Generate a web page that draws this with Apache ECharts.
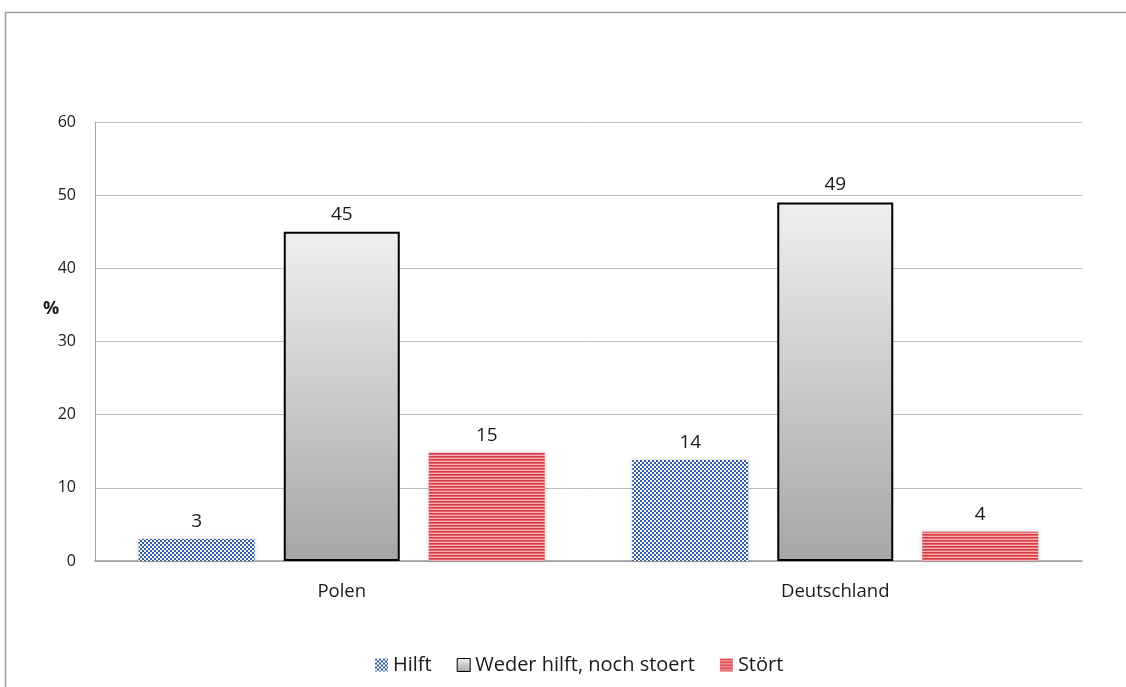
<!DOCTYPE html>
<html>
<head>
<meta charset="utf-8">
<script src="https://cdn.jsdelivr.net/npm/echarts@6/dist/echarts.min.js"></script>
<style>
html,body{margin:0;padding:0;background:#fff;}
#chart{width:1126px;height:687px;}
</style>
</head>
<body>
<div id="chart"></div>
<script>
const categories = ['Polen', 'Deutschland'];
const seriesNames = ['Hilft', 'Weder hilft, noch stoert', 'Stört'];
const hilft = [3, 13.8];
const weder = [45, 49];
const stoert = [14.8, 4];
const yTicks = [0, 10, 20, 30, 40, 50, 60];

function checker() {
  const c = document.createElement('canvas');
  c.width = 4; c.height = 4;
  const g = c.getContext('2d');
  g.fillStyle = '#ffffff'; g.fillRect(0, 0, 4, 4);
  g.fillStyle = '#2f5ba6';
  g.fillRect(0, 0, 2, 2); g.fillRect(2, 2, 2, 2);
  return c;
}
function stripes() {
  const c = document.createElement('canvas');
  c.width = 4; c.height = 3;
  const g = c.getContext('2d');
  g.fillStyle = '#d63a43'; g.fillRect(0, 0, 4, 1);
  g.fillStyle = '#e4656b'; g.fillRect(0, 1, 4, 1);
  g.fillStyle = '#f4b0b3'; g.fillRect(0, 2, 4, 1);
  return c;
}

const font = '"Open Sans", "Noto Sans", sans-serif';
const chart = echarts.init(document.getElementById('chart'), null, {renderer: 'canvas'});

const labelCfg = {
  show: true, position: 'top', distance: 8,
  color: '#1a1a1a', fontSize: 19, fontFamily: font,
  formatter: p => Math.round(p.value)
};

chart.setOption({
  animation: false,
  backgroundColor: '#ffffff',
  graphic: [
    {type: 'rect', shape: {x: 5.5, y: 12.5, width: 1200, height: 800},
     style: {fill: 'none', stroke: '#9a9a9a', lineWidth: 1.5}, z: 0},
    {type: 'text', left: 43, top: 300,
     style: {text: '%', font: 'bold 18px "Open Sans", sans-serif', fill: '#1a1a1a'}}
  ],
  grid: {left: 95, right: 44, top: 122, bottom: 126, containLabel: false},
  legend: {
    left: 370, top: 650,
    icon: 'rect',
    itemWidth: 13, itemHeight: 13, itemGap: 25,
    textStyle: {fontSize: 20, fontFamily: font, color: '#1a1a1a'},
    data: [
      {name: seriesNames[0], itemStyle: {borderWidth: 0, shadowBlur: 0}},
      {name: seriesNames[1], itemStyle: {borderWidth: 1, borderColor: '#000'}},
      {name: seriesNames[2], itemStyle: {borderWidth: 0, shadowBlur: 0}}
    ]
  },
  xAxis: {
    type: 'category', data: categories,
    axisLine: {show: true, lineStyle: {color: '#9a9a9a', width: 1.5}},
    axisTick: {show: false},
    axisLabel: {color: '#1a1a1a', fontSize: 18.5, fontFamily: font, margin: 21},
  },
  yAxis: {
    type: 'value', min: yTicks[0], max: yTicks[yTicks.length - 1], interval: 10,
    axisLine: {show: true, lineStyle: {color: '#a6a6a6', width: 1}},
    axisTick: {show: false},
    axisLabel: {color: '#1a1a1a', fontSize: 16, fontFamily: font, margin: 19},
    splitLine: {lineStyle: {color: '#bcbcbc', width: 1}}
  },
  series: [
    {
      name: seriesNames[0], type: 'bar', data: hilft,
      barWidth: 116, barGap: '25%',
      itemStyle: {color: {image: checker(), repeat: 'repeat'},
                  shadowBlur: 4, shadowColor: 'rgba(0,0,0,0.2)'},
      label: labelCfg
    },
    {
      name: seriesNames[1], type: 'bar', data: weder,
      barWidth: 116,
      itemStyle: {
        color: {type: 'linear', x: 0, y: 0, x2: 0, y2: 1,
                colorStops: [{offset: 0, color: '#efefef'}, {offset: 1, color: '#a6a6a6'}]},
        borderColor: '#000000', borderWidth: 2
      },
      label: labelCfg
    },
    {
      name: seriesNames[2], type: 'bar', data: stoert,
      barWidth: 116,
      itemStyle: {color: {image: stripes(), repeat: 'repeat'},
                  shadowBlur: 4, shadowColor: 'rgba(0,0,0,0.2)'},
      label: labelCfg
    }
  ]
});
</script>
</body>
</html>
